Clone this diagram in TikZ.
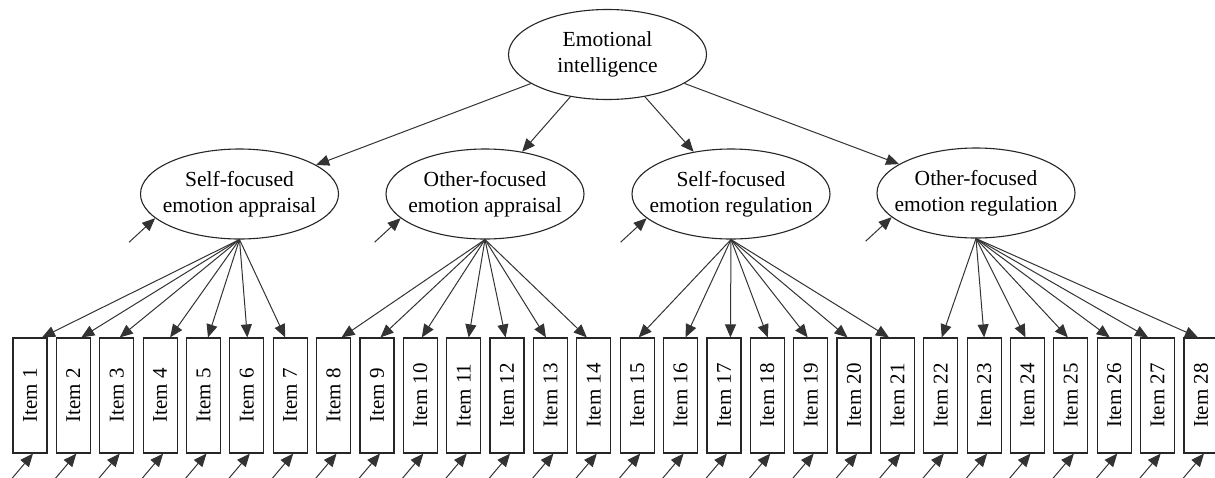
\documentclass[tikz,border=0pt]{standalone}
\usepackage{fontspec}
\setmainfont{Liberation Serif}
\usetikzlibrary{arrows.meta,calc,shapes.geometric}
\begin{document}
\begin{tikzpicture}[x=1pt,y=-1pt,
  lat/.style={ellipse, draw=black!85, line width=1.1pt, minimum width=198pt, minimum height=90pt,
    inner xsep=-20pt, inner ysep=0pt, align=center, font=\fontsize{21.5}{25.5}\selectfont},
  obs/.style={rectangle, draw=black!85, line width=1.2pt, minimum width=34pt, minimum height=115pt,
    inner sep=0pt, font=\fontsize{21}{24}\selectfont},
  arr/.style={draw=black!80, line width=1pt, -{Triangle[length=13pt,width=11pt]}},
]
\useasboundingbox (0,0) rectangle (1215,477);

\node[lat] (EI) at (607.5,54.5) {Emotional\\intelligence};
\node[lat] (F1) at (239.5,194) {Self-focused\\emotion appraisal};
\node[lat] (F2) at (485,194) {Other-focused\\emotion appraisal};
\node[lat] (F3) at (731,194) {Self-focused\\emotion regulation};
\node[lat] (F4) at (976,193) {Other-focused\\emotion regulation};

\foreach \f in {F1,F2,F3,F4}{
  \draw[arr] (EI) -- (\f);
  \coordinate (\f e) at ($(\f.196)+(-26,24)$);
  \draw[arr] (\f e) -- (\f.196);
}

\foreach \i in {1,...,28}{
  \pgfmathsetmacro\cx{30+(\i-1)*43.37}
  \node[obs] (I\i) at (\cx,395.5) {\rotatebox{90}{Item \i}};
  \coordinate (U\i) at ($(I\i.south)+(-19,26)$);
  \draw[arr] (U\i) -- ([xshift=3pt]I\i.south);
}

\foreach \i/\o in {1/12,2/8,3/3,4/10,5/4.5,6/0.5,7/-5}{
  \draw[arr] (F1.south) -- ([xshift=\o pt]I\i.north);
}
\foreach \i/\o in {8/8,9/3.5,10/1.5,11/5,12/-1.5,13/-4.5,14/-7}{
  \draw[arr] (F2.south) -- ([xshift=\o pt]I\i.north);
}
\foreach \i/\o in {15/1.5,16/5,17/6.5,18/0.5,19/-3,20/-6.5,21/-8.5}{
  \draw[arr] (F3.south) -- ([xshift=\o pt]I\i.north);
}
\foreach \i/\o in {22/1,23/0,24/-2,25/-3,26/-4.5,27/-9.5,28/-3}{
  \draw[arr] (F4.south) -- ([xshift=\o pt]I\i.north);
}
\end{tikzpicture}
\end{document}
